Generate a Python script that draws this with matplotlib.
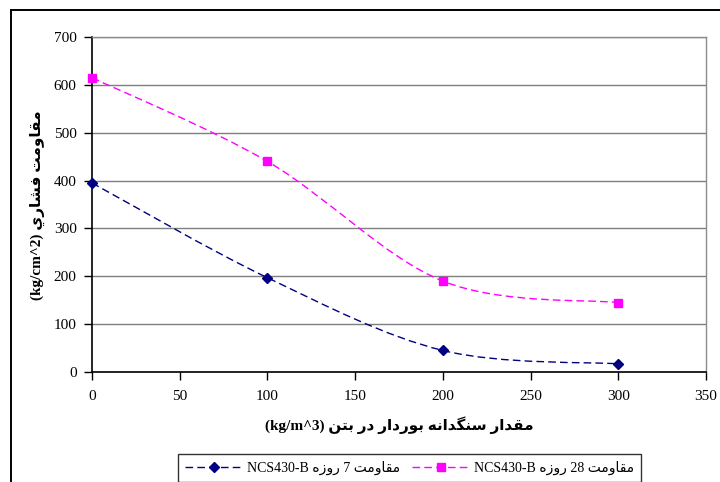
import matplotlib
matplotlib.use("Agg")
import matplotlib.pyplot as plt
from matplotlib.path import Path
from matplotlib.patches import PathPatch
from matplotlib.lines import Line2D
import numpy as np

# ---------------- data ----------------
x_vals = [0, 100, 200, 300]
day7 = [395, 197, 45, 17]
day28 = [615, 440, 190, 145]
x_ticks = [0, 50, 100, 150, 200, 250, 300, 350]
y_ticks = [0, 100, 200, 300, 400, 500, 600, 700]

# ---------------- Arabic shaping (presentation forms, visual order) ----------------
FORMS = {
    'ا': ('\uFE8D', '\uFE8E', None, None),
    'ب': ('\uFE8F', '\uFE90', '\uFE91', '\uFE92'),
    'ت': ('\uFE95', '\uFE96', '\uFE97', '\uFE98'),
    'د': ('\uFEA9', '\uFEAA', None, None),
    'ر': ('\uFEAD', '\uFEAE', None, None),
    'ز': ('\uFEAF', '\uFEB0', None, None),
    'س': ('\uFEB1', '\uFEB2', '\uFEB3', '\uFEB4'),
    'ش': ('\uFEB5', '\uFEB6', '\uFEB7', '\uFEB8'),
    'ف': ('\uFED1', '\uFED2', '\uFED3', '\uFED4'),
    'ق': ('\uFED5', '\uFED6', '\uFED7', '\uFED8'),
    'م': ('\uFEE1', '\uFEE2', '\uFEE3', '\uFEE4'),
    'ن': ('\uFEE5', '\uFEE6', '\uFEE7', '\uFEE8'),
    'ه': ('\uFEE9', '\uFEEA', '\uFEEB', '\uFEEC'),
    'و': ('\uFEED', '\uFEEE', None, None),
    'ي': ('\uFEF1', '\uFEF2', '\uFEF3', '\uFEF4'),
    'گ': ('\uFB92', '\uFB93', '\uFB94', '\uFB95'),
}


def dual(c):
    return c in FORMS and FORMS[c][2] is not None


def shape(word):
    out = []
    for i, c in enumerate(word):
        prev = word[i - 1] if i > 0 else None
        nxt = word[i + 1] if i < len(word) - 1 else None
        jp = prev is not None and dual(prev)
        jn = nxt is not None and dual(c) and nxt in FORMS
        iso, fin, ini, med = FORMS[c]
        if jp and jn:
            g = med
        elif jp:
            g = fin
        elif jn:
            g = ini
        else:
            g = iso
        out.append(g)
    return ''.join(reversed(out))


ylabel_txt = "(kg/cm^2) " + shape("فشاري") + " " + shape("مقاومت")
xlabel_txt = ("(kg/m^3) " + shape("بتن") + " " + shape("در") + " " + shape("بوردار")
              + " " + shape("سنگدانه") + " " + shape("مقدار"))
leg7 = "NCS430-B " + shape("روزه") + " 7 " + shape("مقاومت")
leg28 = "NCS430-B " + shape("روزه") + " 28 " + shape("مقاومت")

FAM = ['Liberation Serif', 'DejaVu Sans']
plt.rcParams['font.family'] = FAM

W, H = 720, 482
fig = plt.figure(figsize=(W / 100, H / 100), dpi=100)
fig.patch.set_facecolor('white')

ax = fig.add_axes([92 / W, 1 - 372 / H, (706 - 92) / W, (372 - 37) / H])
ax.set_xlim(0, 350)
ax.set_ylim(0, 700)
ax.set_xticks(x_ticks)
ax.set_yticks(y_ticks)
ax.tick_params(axis='both', direction='out', length=6, width=1, color='black',
               labelsize=11, pad=5)
ax.tick_params(axis='x', pad=7)
ax.yaxis.grid(True, color='#7f7f7f', linewidth=1.0)
ax.set_axisbelow(True)
for s in ['left', 'bottom']:
    ax.spines[s].set_color('black')
    ax.spines[s].set_linewidth(1.2)
for s in ['top', 'right']:
    ax.spines[s].set_color('#8c8c8c')
    ax.spines[s].set_linewidth(1.0)


def smooth_path(xs, ys):
    pts = np.column_stack([xs, ys]).astype(float)
    n = len(pts)
    verts = [pts[0]]
    codes = [Path.MOVETO]
    for i in range(n - 1):
        p0 = pts[i - 1] if i > 0 else pts[i]
        p1 = pts[i]
        p2 = pts[i + 1]
        p3 = pts[i + 2] if i + 2 < n else pts[i + 1]
        c1 = p1 + (p2 - p0) / 6.0
        c2 = p2 - (p3 - p1) / 6.0
        verts += [c1, c2, p2]
        codes += [Path.CURVE4] * 3
    return Path(verts, codes)


series = [
    (day7, '#000080', 'D', 5.5, leg7),
    (day28, '#FF00FF', 's', 5.5, leg28),
]
handles = []
for ys, col, mk, ms, lab in series:
    patch = PathPatch(smooth_path(x_vals, ys), fill=False, edgecolor=col,
                      linewidth=1.0, linestyle=(0, (5.5, 3)), clip_on=False, zorder=3)
    ax.add_patch(patch)
    ax.plot(x_vals, ys, linestyle='none', marker=mk, markersize=ms,
            color=col, markeredgecolor=col, zorder=4, clip_on=False)
    handles.append(Line2D([], [], color=col, linewidth=1.0, linestyle=(0, (5.5, 3)),
                          marker=mk, markersize=ms, label=lab))

fig.text(37 / W, 1 - 205 / H, ylabel_txt, rotation=90, ha='center', va='center',
         fontsize=11, fontweight='bold', family=FAM)
fig.text(399 / W, 1 - 425 / H, xlabel_txt, ha='center', va='center',
         fontsize=11, fontweight='bold', family=FAM)

leg = fig.legend(handles=handles, loc='upper left',
                 bbox_to_anchor=(178 / W, 1 - 454 / H), ncol=2,
                 frameon=True, fancybox=False, edgecolor='black',
                 fontsize=10, handlelength=4.2, handletextpad=0.3,
                 columnspacing=0.8, borderpad=0.5, borderaxespad=0)
leg.get_frame().set_linewidth(1.0)

# outer chart border (partially cropped)
fig.add_artist(Line2D([11 / W, 1], [1 - 10 / H, 1 - 10 / H], color='black',
                      linewidth=1.4, transform=fig.transFigure))
fig.add_artist(Line2D([11 / W, 11 / W], [0, 1 - 10 / H], color='black',
                      linewidth=1.4, transform=fig.transFigure))

fig.savefig('out.png', dpi=100)
